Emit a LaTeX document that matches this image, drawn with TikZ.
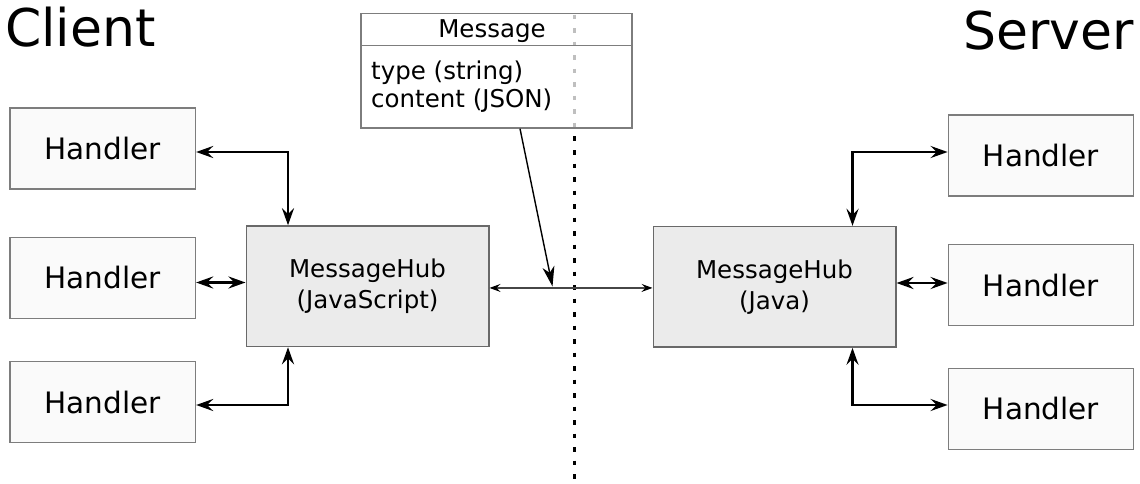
\documentclass[tikz,border=0pt]{standalone}
\usepackage{fontspec}
\setmainfont{DejaVu Sans}
\usetikzlibrary{arrows.meta}
\definecolor{handlerfill}{RGB}{250,250,250}
\definecolor{hubfill}{RGB}{235,235,235}
\definecolor{edgegray}{RGB}{125,125,125}
\definecolor{hubedge}{RGB}{105,105,105}
\definecolor{wiregray}{RGB}{70,70,70}
\begin{document}
\begin{tikzpicture}[x=1pt,y=-1pt,
  hbox/.style={draw=edgegray, fill=handlerfill, line width=1.3pt,
    minimum width=185.5pt, minimum height=81pt, inner sep=0pt,
    font=\fontsize{29.5}{35}\selectfont},
  hub/.style={draw=hubedge, fill=hubfill, line width=1.5pt,
    minimum width=242.5pt, minimum height=120.5pt, inner sep=0pt,
    align=center, font=\fontsize{24.5}{31}\selectfont},
  msgbox/.style={draw=edgegray, fill=white, fill opacity=0.75, line width=1.3pt,
    minimum width=271pt, minimum height=114.5pt, inner sep=0pt},
  msgtext/.style={inner sep=0pt, font=\fontsize{24.5}{29}\selectfont},
  title/.style={inner sep=0pt, font=\fontsize{52}{60}\selectfont},
  link/.style={line width=2.8pt,
    {Stealth[length=17pt,width=12pt,inset=6pt]}-{Stealth[length=17pt,width=12pt,inset=6pt]}},
  wire/.style={draw=wiregray, line width=1.4pt,
    {Stealth[length=11pt,width=8pt,inset=4pt,fill=black,color=black]}-{Stealth[length=11pt,width=8pt,inset=4pt,fill=black,color=black]}},
  msgarrow/.style={line width=1.4pt, -{Stealth[length=20pt,width=12pt,inset=6pt]}},
  divider/.style={line width=2.6pt, dash pattern=on 4.5pt off 9pt}
]
\useasboundingbox (0,0) rectangle (1140,484);

% side titles
\node[title, anchor=base west] (client) at (5,47) {Client};
\node[title, anchor=base east] (server) at (1134,49.5) {Server};

% dividing line between client and server
\coordinate (divtop) at (574.5,15);
\coordinate (divbot) at (574.5,484);
\draw[divider] (divtop) -- (divbot);

% handlers
\node[hbox] (lh1) at (102.75,148.5) {Handler};
\node[hbox] (lh2) at (102.75,278) {Handler};
\node[hbox] (lh3) at (102.75,402) {Handler};
\node[hbox] (rh1) at (1041,155.5) {Handler};
\node[hbox] (rh2) at (1041,285) {Handler};
\node[hbox] (rh3) at (1041,408.8) {Handler};

% hubs
\node[hub] (lhub) at (367.5,286.25) {MessageHub\\(JavaScript)};
\node[hub] (rhub) at (774.5,286.85) {MessageHub\\(Java)};

% handler links
\draw[link] ([yshift=-3.5pt]lh1.east) -| ([xshift=42.5pt]lhub.north west);
\draw[link] ([yshift=-4.5pt]lh2.east) -- ([yshift=-4.5pt]lh2.east -| lhub.west);
\draw[link] ([yshift=-3pt]lh3.east) -| ([xshift=42.5pt]lhub.south west);
\draw[link] ([xshift=200pt]rhub.north west) |- ([yshift=3.5pt]rh1.west);
\draw[link] ([yshift=2pt]rh2.west -| rhub.east) -- ([yshift=2pt]rh2.west);
\draw[link] ([xshift=200pt]rhub.south west) |- ([yshift=3.8pt]rh3.west);

% hub to hub connection
\draw[wire] ([yshift=-1.7pt]lhub.east) -- ([yshift=-1.7pt]lhub.east -| rhub.west);

% message structure
\node[msgbox] (msg) at (496.5,70.75) {};
\draw[edgegray, line width=1.3pt] ([yshift=-32.5pt]msg.north west) -- ([yshift=-32.5pt]msg.north east);
\node[msgtext, anchor=base] (msgtitle) at (492,37.5) {Message};
\node[msgtext, anchor=base west] (field1) at (371,80) {type (string)};
\node[msgtext, anchor=base west] (field2) at (371,108) {content (JSON)};

\coordinate (tap) at (552.5,286.5);
\draw[msgarrow] ([xshift=23.5pt]msg.south) -- (tap);
\end{tikzpicture}
\end{document}
